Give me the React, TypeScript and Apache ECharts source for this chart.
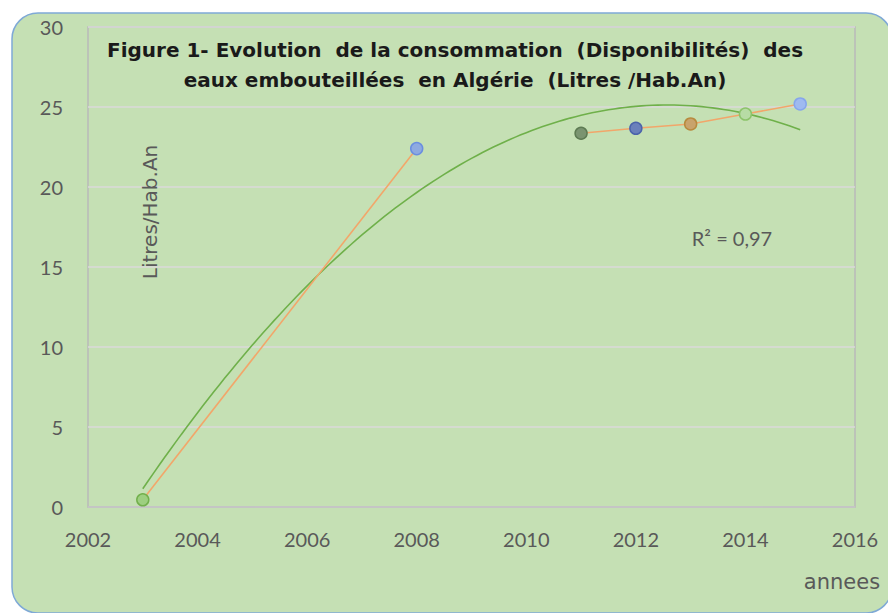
import React, { useEffect, useRef } from "react";
import * as echarts from "echarts";

const years = [2003, 2008, 2011, 2012, 2013, 2014, 2015];
const values = [0.45, 22.4, 23.36, 23.67, 23.94, 24.56, 25.19];
const segments = [[0, 1], [2, 6]];
const xTicks = { min: 2002, max: 2016, interval: 2 };
const yTicks = { min: 0, max: 30, interval: 5 };
const titleLines = [
  "Figure 1- Evolution  de la consommation  (Disponibilités)  des",
  "eaux embouteillées  en Algérie  (Litres /Hab.An)",
];
const yName = "Litres/Hab.An";
const xName = "annees";
const r2Label = "R² = 0,97";

const markerFill = ["#9dcf80", "#8eaae0", "#7a9470", "#6a80bb", "#c9a36c", "#b7dca5", "#9fbaf0"];
const markerBorder = ["#72b04c", "#6a8ee0", "#5d7a52", "#4b63ab", "#b88a3e", "#8cc36a", "#86a6ec"];

function quadFit(xs: number[], ys: number[]) {
  const x0 = xs[0];
  const t = xs.map((x) => x - x0);
  let s0 = 0, s1 = 0, s2 = 0, s3 = 0, s4 = 0, sy = 0, sty = 0, st2y = 0;
  t.forEach((ti, i) => {
    const y = ys[i];
    s0 += 1; s1 += ti; s2 += ti * ti; s3 += ti ** 3; s4 += ti ** 4;
    sy += y; sty += ti * y; st2y += ti * ti * y;
  });
  const M = [
    [s0, s1, s2, sy],
    [s1, s2, s3, sty],
    [s2, s3, s4, st2y],
  ];
  for (let i = 0; i < 3; i++) {
    for (let j = i + 1; j < 3; j++) {
      const f = M[j][i] / M[i][i];
      for (let k = i; k < 4; k++) M[j][k] -= f * M[i][k];
    }
  }
  const c = [0, 0, 0];
  for (let i = 2; i >= 0; i--) {
    let s = M[i][3];
    for (let k = i + 1; k < 3; k++) s -= M[i][k] * c[k];
    c[i] = s / M[i][i];
  }
  return (x: number) => c[0] + c[1] * (x - x0) + c[2] * (x - x0) ** 2;
}

export default function App() {
  const ref = useRef<HTMLDivElement>(null);
  useEffect(() => {
    if (!ref.current) return;
    const chart = echarts.init(ref.current, undefined, { renderer: "svg" });
    const fit = quadFit(years, values);
    const trend: number[][] = [];
    const x0 = years[0];
    const x1 = years[years.length - 1];
    const steps = 120;
    for (let i = 0; i <= steps; i++) {
      const x = x0 + ((x1 - x0) * i) / steps;
      trend.push([x, fit(x)]);
    }
    const pointSeries = segments.map(([a, b]) => ({
      type: "line",
      data: years.slice(a, b + 1).map((y, k) => ({
        value: [y, values[a + k]],
        itemStyle: { color: markerFill[a + k], borderColor: markerBorder[a + k], borderWidth: 1.5 },
      })),
      symbol: "circle",
      symbolSize: 12,
      lineStyle: { color: "#f2a66a", width: 1.6 },
      z: 3,
    }));
    chart.setOption({
      animation: false,
      backgroundColor: "transparent",
      graphic: [
        {
          type: "rect",
          shape: { x: 12, y: 13, width: 880, height: 600, r: 26 },
          style: { fill: "#c5e0b4", stroke: "#7fa9d6", lineWidth: 1.5 },
          z: -10,
          silent: true,
        },
        ...titleLines.map((line, i) => ({
          type: "text",
          x: 455,
          y: 50 + i * 30,
          style: {
            text: line,
            fill: "#1a1a1a",
            fontSize: 20,
            fontWeight: "bold",
            fontFamily: "DejaVu Sans",
            textAlign: "center",
            textVerticalAlign: "middle",
          },
          z: 10,
        })),
        {
          type: "text",
          x: 150,
          y: 212,
          rotation: Math.PI / 2,
          style: {
            text: yName,
            fill: "#595959",
            fontSize: 20,
            fontFamily: "DejaVu Sans",
            textAlign: "center",
            textVerticalAlign: "middle",
          },
          z: 10,
        },
        {
          type: "text",
          x: 842,
          y: 582,
          style: {
            text: xName,
            fill: "#595959",
            fontSize: 21,
            fontFamily: "DejaVu Sans",
            textAlign: "center",
            textVerticalAlign: "middle",
          },
          z: 10,
        },
        {
          type: "text",
          x: 732,
          y: 238,
          style: {
            text: r2Label,
            fill: "#595959",
            fontSize: 20,
            fontFamily: "Lato",
            textAlign: "center",
            textVerticalAlign: "middle",
          },
          z: 10,
        },
      ],
      grid: {
        left: 88,
        right: 33,
        top: 27,
        bottom: 106,
        show: true,
        borderColor: "#b9b9b9",
        borderWidth: 1.5,
      },
      xAxis: {
        type: "value",
        min: xTicks.min,
        max: xTicks.max,
        interval: xTicks.interval,
        axisLine: { show: true, lineStyle: { color: "#c0c0c0", width: 1.5 } },
        axisTick: { show: false },
        splitLine: { show: false },
        axisLabel: {
          color: "#595959",
          fontSize: 20,
          fontFamily: "Lato",
          margin: 22,
          formatter: (v: number) => String(v),
        },
      },
      yAxis: {
        type: "value",
        min: yTicks.min,
        max: yTicks.max,
        interval: yTicks.interval,
        axisLine: { show: false },
        axisTick: { show: false },
        splitLine: { show: true, lineStyle: { color: "#dadada", width: 1.5 } },
        axisLabel: { color: "#595959", fontSize: 20, fontFamily: "Lato", margin: 25 },
      },
      series: [
        {
          type: "line",
          data: trend,
          showSymbol: false,
          symbol: "none",
          lineStyle: { color: "#6fb04a", width: 1.6 },
          z: 2,
          silent: true,
        },
        ...pointSeries,
      ],
    });
    return () => chart.dispose();
  }, []);
  return (
    <div
      ref={ref}
      style={{ position: "fixed", left: 0, top: 0, width: 888, height: 613, background: "#fff" }}
    />
  );
}
